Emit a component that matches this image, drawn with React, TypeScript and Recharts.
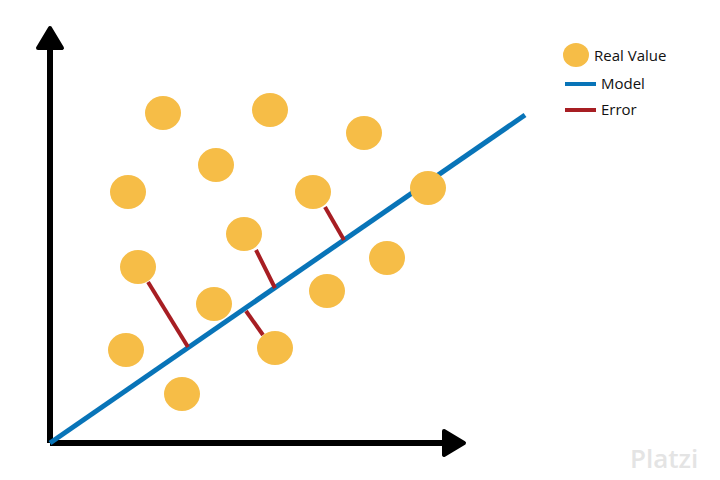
import { ComposedChart, Scatter, XAxis, YAxis, ReferenceLine } from 'recharts'

// coordinates in picture units: x to the right, y measured up from the bottom (480 - pixel row)
const realValues = [
  { x: 163, y: 367 }, { x: 270, y: 370 }, { x: 364, y: 347 }, { x: 216, y: 315 },
  { x: 128, y: 288 }, { x: 313, y: 288 }, { x: 428, y: 292 }, { x: 244, y: 246 },
  { x: 138, y: 213 }, { x: 387, y: 222 }, { x: 214, y: 176 }, { x: 327, y: 189 },
  { x: 126, y: 130 }, { x: 275, y: 132 }, { x: 182, y: 86 },
]
const model = [{ x: 50, y: 37 }, { x: 525, y: 365 }]
const errors = [
  [{ x: 148, y: 198 }, { x: 188, y: 133 }],
  [{ x: 256, y: 230 }, { x: 275, y: 192 }],
  [{ x: 246, y: 169 }, { x: 263, y: 145 }],
  [{ x: 325, y: 273 }, { x: 344, y: 240 }],
]
const axisLines = [
  [{ x: 50, y: 37 }, { x: 50, y: 440 }],
  [{ x: 50, y: 37 }, { x: 450, y: 37 }],
]
const arrowHeads = [{ x: 50, y: 440, dir: 'up' }, { x: 452, y: 37, dir: 'right' }]

const Blob = (p: any) => (
  <ellipse cx={p.cx} cy={p.cy} rx={18} ry={17} fill="#F6BD47" />
)
const Arrow = (p: any) => {
  const { cx, cy } = p
  const pts = p.payload.dir === 'up'
    ? `${cx - 12},${cy + 8} ${cx},${cy - 12} ${cx + 12},${cy + 8}`
    : `${cx - 8},${cy - 12} ${cx + 12},${cy} ${cx - 8},${cy + 12}`
  return <polygon points={pts} fill="#000" stroke="#000" strokeWidth={4} strokeLinejoin="round" />
}

const legendText = { position: 'absolute' as const, fontFamily: 'Open Sans, sans-serif', fontSize: 15, color: '#111' }

export default function App() {
  return (
    <div style={{ position: 'absolute', left: 0, top: 0, width: 720, height: 480, background: '#fff' }}>
      <ComposedChart width={720} height={480} margin={{ top: 0, right: 0, bottom: 0, left: 0 }}>
        <XAxis type="number" dataKey="x" domain={[0, 720]} hide />
        <YAxis type="number" dataKey="y" domain={[0, 480]} hide />
        {axisLines.map((s, i) => (
          <ReferenceLine key={`a${i}`} segment={s} stroke="#000" strokeWidth={6} ifOverflow="visible" />
        ))}
        <ReferenceLine segment={model} stroke="#0874B8" strokeWidth={5} ifOverflow="visible" />
        {errors.map((s, i) => (
          <ReferenceLine key={`e${i}`} segment={s} stroke="#A71E23" strokeWidth={4} ifOverflow="visible" />
        ))}
        <Scatter data={realValues} shape={Blob} isAnimationActive={false} />
        <Scatter data={arrowHeads} shape={Arrow} isAnimationActive={false} />
      </ComposedChart>
      <svg style={{ position: 'absolute', left: 560, top: 40 }} width={40} height={80}>
        <ellipse cx={16} cy={15} rx={13} ry={12} fill="#F6BD47" />
        <line x1={5} y1={44} x2={36} y2={44} stroke="#0874B8" strokeWidth={4} />
        <line x1={5} y1={70} x2={36} y2={70} stroke="#A71E23" strokeWidth={4} />
      </svg>
      <div style={{ ...legendText, left: 594, top: 45 }}>Real Value</div>
      <div style={{ ...legendText, left: 601, top: 73 }}>Model</div>
      <div style={{ ...legendText, left: 601, top: 99 }}>Error</div>
      <div style={{ position: 'absolute', left: 630, top: 440, fontFamily: 'Open Sans, sans-serif', fontSize: 26, fontWeight: 600, color: '#e4e4e4' }}>Platzi</div>
    </div>
  )
}
